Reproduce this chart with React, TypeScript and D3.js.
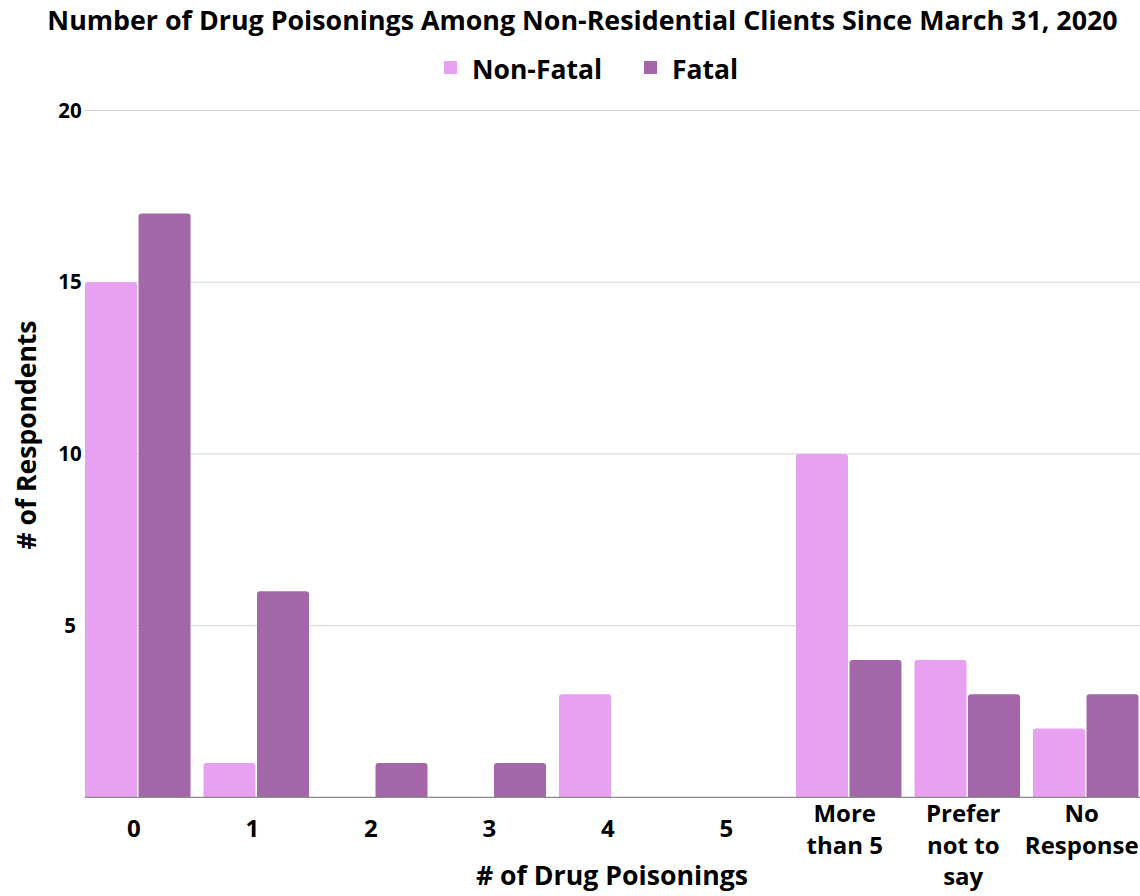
import React from "react";
import * as d3 from "d3";

const title = "Number of Drug Poisonings Among Non-Residential Clients Since March 31, 2020";
const categories = ["0", "1", "2", "3", "4", "5", "More than 5", "Prefer not to say", "No Response"];
const categoryLines = [["0"], ["1"], ["2"], ["3"], ["4"], ["5"], ["More", "than 5"], ["Prefer", "not to", "say"], ["No", "Response"]];
const seriesNames = ["Non-Fatal", "Fatal"];
const nonFatal = [15, 1, 0, 0, 3, 0, 10, 4, 2];
const fatal = [17, 6, 1, 1, 0, 0, 4, 3, 3];
const seriesColors = ["#e8a0f0", "#a366a9"];
const yTicks = [5, 10, 15, 20];
const xTitle = "# of Drug Poisonings";
const yTitle = "# of Respondents";

const W = 1140;
const H = 896;
const FONT = "'Open Sans', sans-serif";

function topRoundedRect(x: number, y: number, w: number, h: number, r: number) {
  if (h <= 0) return "";
  const rr = Math.min(r, h, w / 2);
  return `M${x},${y + h}V${y + rr}Q${x},${y} ${x + rr},${y}H${x + w - rr}Q${x + w},${y} ${x + w},${y + rr}V${y + h}Z`;
}

export default function App() {
  const plotLeft = 78.5;
  const plotRight = 1145;
  const y = d3.scaleLinear().domain([0, 20]).range([797.3, 110.5]);
  const x0 = d3
    .scaleBand<string>()
    .domain(categories)
    .range([plotLeft, plotRight])
    .paddingInner(13 / 118.5)
    .paddingOuter(0.055);
  const x1 = d3
    .scaleBand<string>()
    .domain(seriesNames)
    .range([0, x0.bandwidth()])
    .paddingInner(3 / 105);
  const values = [nonFatal, fatal];

  return (
    <svg
      width={W}
      height={H}
      style={{ position: "absolute", left: 0, top: 0, background: "#fff" }}
      fontFamily={FONT}
    >
      <rect width={W} height={H} fill="#fff" />
      <text x={582.5} y={30} textAnchor="middle" fontSize={26.8} fontWeight={700} fill="#000">
        {title}
      </text>

      {/* legend */}
      {seriesNames.map((s, i) => {
        const lx = [444, 644][i];
        return (
          <g key={s}>
            <rect x={lx} y={61} width={13} height={13} fill={seriesColors[i]} />
            <text x={lx + 28} y={79} fontSize={26.5} fontWeight={700} fill="#000">
              {s}
            </text>
          </g>
        );
      })}

      {/* gridlines and value ticks */}
      {yTicks.map((t) => (
        <g key={t}>
          <line x1={85} x2={W} y1={y(t)} y2={y(t)} stroke="#d4d4d4" strokeWidth={1} />
          <text x={70} y={y(t) + 7} textAnchor="middle" fontSize={20.5} fontWeight={700} fill="#000">
            {t}
          </text>
        </g>
      ))}

      {/* bars */}
      {categories.map((c, ci) => (
        <g key={c} transform={`translate(${x0(c)},0)`}>
          {seriesNames.map((s, si) => {
            const v = values[si][ci];
            const top = y(v);
            return (
              <path
                key={s}
                d={topRoundedRect(x1(s)!, top, x1.bandwidth(), y(0) - top, 3)}
                fill={seriesColors[si]}
              />
            );
          })}
        </g>
      ))}

      {/* baseline */}
      <line x1={85} x2={W} y1={y(0)} y2={y(0)} stroke="#8a8a8a" strokeWidth={1.3} />

      {/* category labels */}
      {categories.map((c, ci) => {
        const cx = x0(c)! + x0.bandwidth() / 2 - 4;
        const lines = categoryLines[ci];
        const firstBaseline = lines.length === 1 ? 837 : 822;
        return (
          <text key={c} x={cx} textAnchor="middle" fontSize={24} fontWeight={700} fill="#000">
            {lines.map((ln, li) => (
              <tspan key={li} x={cx} y={firstBaseline + li * 31.5}>
                {ln}
              </tspan>
            ))}
          </text>
        );
      })}

      <text x={612} y={885} textAnchor="middle" fontSize={26.7} fontWeight={700} fill="#000">
        {xTitle}
      </text>
      <text
        transform={`translate(36,435) rotate(-90)`}
        textAnchor="middle"
        fontSize={26.5}
        fontWeight={700}
        fill="#000"
      >
        {yTitle}
      </text>
    </svg>
  );
}
